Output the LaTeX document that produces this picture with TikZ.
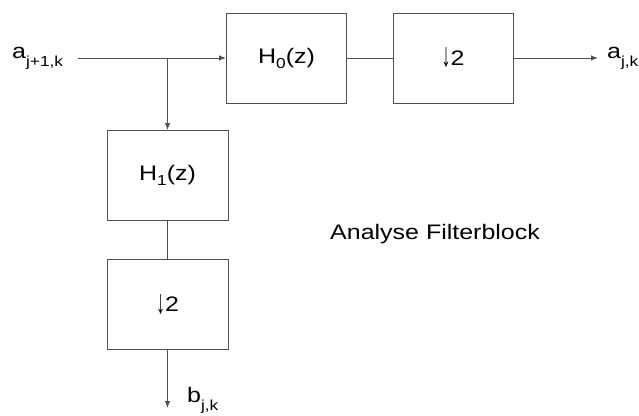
\documentclass[tikz,border=0pt]{standalone}
\usepackage{fontspec}
\usepackage{graphicx}
\setmainfont{Liberation Sans}[FakeStretch=1.19]
\usetikzlibrary{arrows.meta}
\definecolor{linegray}{RGB}{80,80,80}
\newcommand{\subtxt}[2]{\raisebox{-#1}{\fontsize{14.5}{15}\selectfont #2}}
\newcommand{\dnarr}{\raisebox{-3pt}{\resizebox*{9pt}{20pt}{\raisebox{\depth}{↓}}}}
\tikzset{
  blk/.style={draw=linegray, line width=1pt, rectangle, minimum width=120pt, minimum height=90pt, inner sep=0pt, font=\fontsize{21}{25}\selectfont},
  conn/.style={draw=linegray, line width=1pt},
  arr/.style={conn, -{Latex[length=7pt,width=5.5pt]}},
  lbl/.style={inner sep=0pt, font=\fontsize{21}{25}\selectfont},
}
\begin{document}
\begin{tikzpicture}[x=1pt,y=-1pt]
\useasboundingbox[fill=white] (0,0) rectangle (639,415);
\node[blk] (h0) at (286.5,58) {H\subtxt{5pt}{0}(z)};
\node[blk] (d0) at (453,58) {\dnarr 2};
\node[blk, minimum width=121pt] (h1) at (167.5,175.5) {H\subtxt{5pt}{1}(z)};
\node[blk, minimum width=121pt] (d1) at (167.5,304) {\dnarr 2};
\coordinate (in) at (78,58);
\coordinate (br) at (167.5,58);
\coordinate (out) at (598,58);
\coordinate (bot) at (167.5,408);
\node[lbl, anchor=base west] (ain) at (12,58) {a\subtxt{8.5pt}{j+1,k}};
\node[lbl, anchor=base west] (aout) at (607,58) {a\subtxt{8.5pt}{j,k}};
\node[lbl, anchor=base west] (bout) at (187,402) {b\subtxt{8.5pt}{j,k}};
\node[lbl, anchor=base west] (title) at (330,239) {Analyse Filterblock};
\draw[arr] (in) -- (h0.west);
\draw[arr] (br) -- (h1.north);
\draw[conn] (h0.east) -- (d0.west);
\draw[arr] (d0.east) -- (out);
\draw[conn] (h1.south) -- (d1.north);
\draw[arr] (d1.south) -- (bot);
\end{tikzpicture}
\end{document}
